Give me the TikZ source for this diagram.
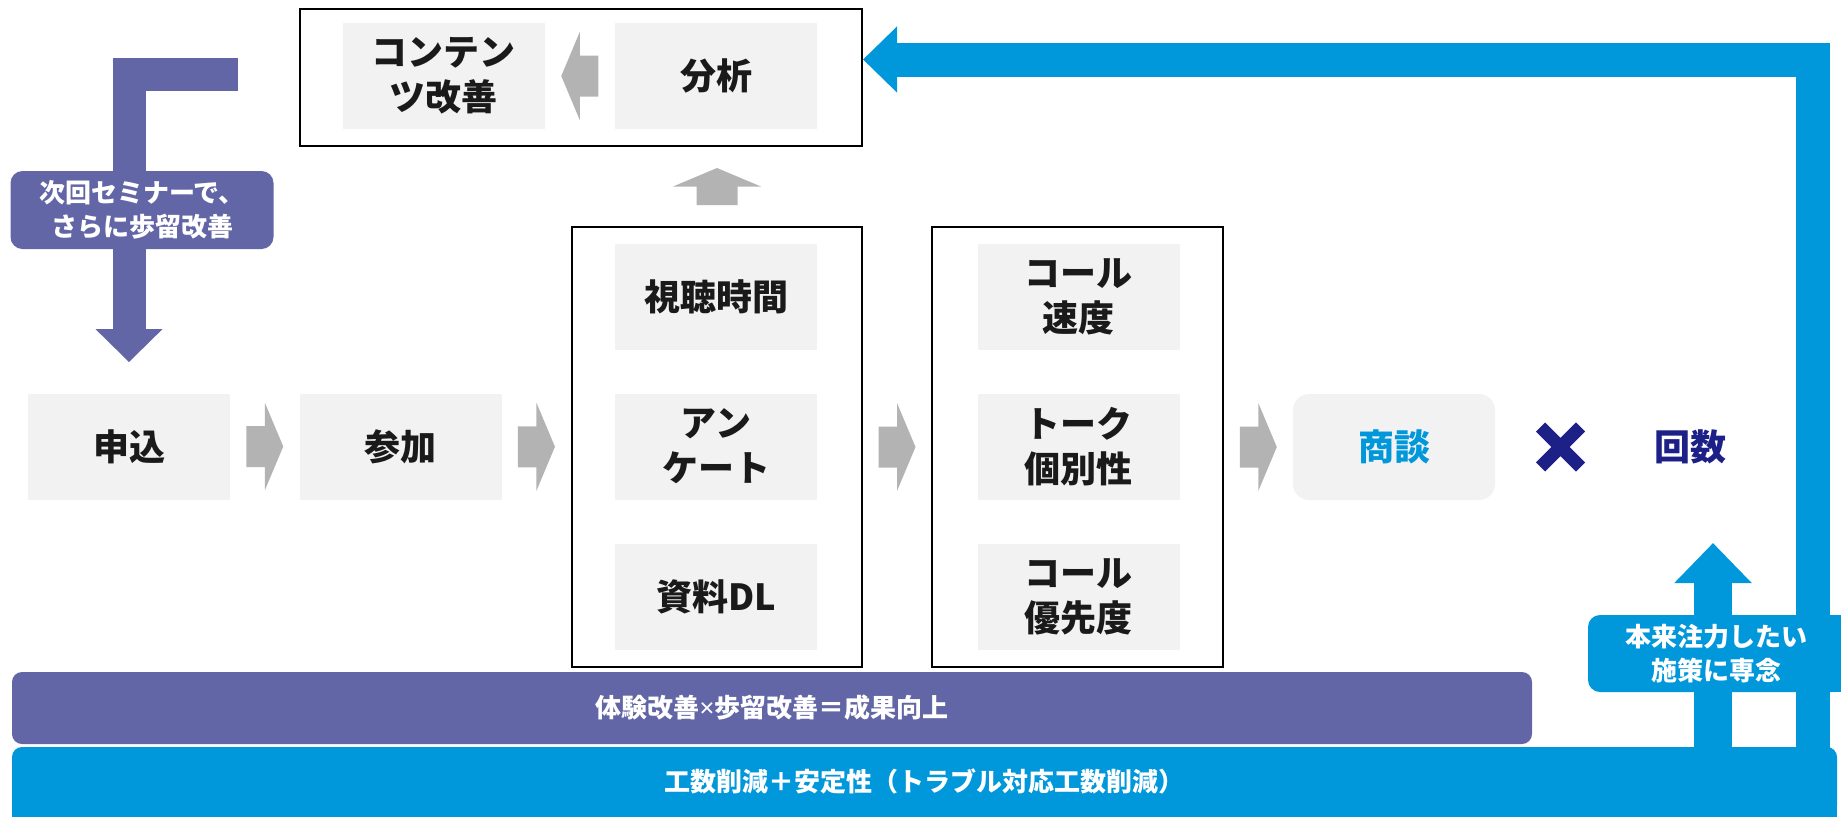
\documentclass[tikz,border=0pt]{standalone}
\usepackage{fontspec}
\setmainfont{Noto Sans CJK JP}
\newfontfamily\latinsans{Noto Sans}
\usetikzlibrary{arrows.meta,positioning}
\definecolor{boxgray}{HTML}{F2F2F2}
\definecolor{arrowgray}{HTML}{B3B3B3}
\definecolor{mainblue}{HTML}{0097DB}
\definecolor{stepviolet}{HTML}{6366A6}
\definecolor{navy}{HTML}{1D2087}
\definecolor{ink}{HTML}{1A1A1A}
\pgfmathsetlengthmacro\px{0.5pt}
\tikzset{
  graybox/.style={fill=boxgray, text=ink, font=\fontsize{18}{22.5}\selectfont\bfseries, align=center, minimum width=202*\px, minimum height=106*\px, inner sep=0pt},
  colbox/.style={draw=black, line width=1pt, inner sep=0pt},
  band/.style={font=\fontsize{13}{16}\selectfont\bfseries, text=white, inner sep=0pt, rounded corners=10*\px},
  tag/.style={text=white, font=\fontsize{13}{17}\selectfont\bfseries, align=center, inner sep=0pt, rounded corners=12*\px},
  rarrow/.pic={\fill[arrowgray] (-18.5,-20.5) -- (0,-20.5) -- (0,-44) -- (18.5,0) -- (0,44) -- (0,20.5) -- (-18.5,20.5) -- cycle;}
}
\begin{document}
\begin{tikzpicture}[x=\px, y=-\px]
\useasboundingbox (0,0) rectangle (1841,816);
\node[colbox, minimum width=562*\px, minimum height=137*\px] (topbox) at (581,77.5) {};
\node[graybox] (kaizen) at (443.5,76) {コンテン\\ツ改善};
\node[graybox] (bunseki) at (716,76) {分析};
\node[colbox, minimum width=290*\px, minimum height=440*\px] (col2) at (717,447) {};
\node[colbox, minimum width=291*\px, minimum height=440*\px] (col3) at (1077.5,447) {};
\node[graybox] (shin) at (129,446.5) {申込};
\node[graybox] (sanka) at (400.5,446.5) {参加};
\node[graybox] (shicho) at (716,296.5) {視聴時間};
\node[graybox] (anke) at (716,446.5) {アン\\ケート};
\node[graybox] (shiryo) at (716,596.5) {資料DL};
\node[graybox] (callspeed) at (1078.5,296.5) {コール\\速度};
\node[graybox] (talk) at (1078.5,446.5) {トーク\\個別性};
\node[graybox] (callorder) at (1078.5,596.5) {コール\\優先度};
\node[graybox, rounded corners=16*\px, text=mainblue] (shodan) at (1394,447) {商談};
\node[font=\fontsize{18}{22.5}\selectfont\bfseries, text=navy] (kaisu) at (1690,447) {回数};
\draw[navy, line width=6.5pt] (1540.5,427) -- (1580.5,467) (1580.5,427) -- (1540.5,467);
\foreach \a/\b in {shin/sanka,sanka/col2,col2/col3,col3/shodan} {
  \path (\a.east) -- coordinate[midway] (m) (\b.west);
  \pic at (m) {rarrow};
}
\path (bunseki.west) -- coordinate[midway] (m) (kaizen.east);
\pic[rotate=180] at (m) {rarrow};
\path (col2.north) -- coordinate[midway] (m) (col2.north |- topbox.south);
\pic[rotate=90] at (m) {rarrow};
\node[band, fill=stepviolet, minimum width=1520*\px, minimum height=72*\px] (taiken) at (772,708) {体験改善{\latinsans\bfseries ×}歩留改善＝成果向上};
\fill[mainblue] (12,781) rectangle (1837,830);
\node[band, fill=mainblue, minimum width=1825*\px, minimum height=69*\px] (kousu) at (924.5,781.5) {工数削減＋安定性（トラブル対応工数削減）};
\coordinate (ret) at (1812.5,757);
\coordinate (aim) at (1713,543);
\draw[mainblue, line width=17pt, -{Triangle[length=17pt,width=32pt]}] (ret) |- ([yshift=9pt]topbox.east);
\draw[mainblue, line width=19pt, -{Triangle[length=20pt,width=37.5pt]}] ([yshift=-5pt]kousu.north -| aim) -- (aim);
\coordinate (loop) at (238,74.5);
\draw[stepviolet, line width=16.5pt, -{Triangle[length=16.5pt,width=32.5pt]}] (loop) -| ([yshift=15.5pt]shin.north);
\node[tag, fill=stepviolet, minimum width=263*\px, minimum height=78*\px] (nextseminar) at (142,210) {次回セミナーで、\\さらに歩留改善};
\fill[mainblue] (1700,615) rectangle (1860,692);
\node[tag, fill=mainblue, minimum width=256*\px, minimum height=77*\px] (focus) at (1716,653.5) {本来注力したい\\施策に専念};
\end{tikzpicture}
\end{document}
